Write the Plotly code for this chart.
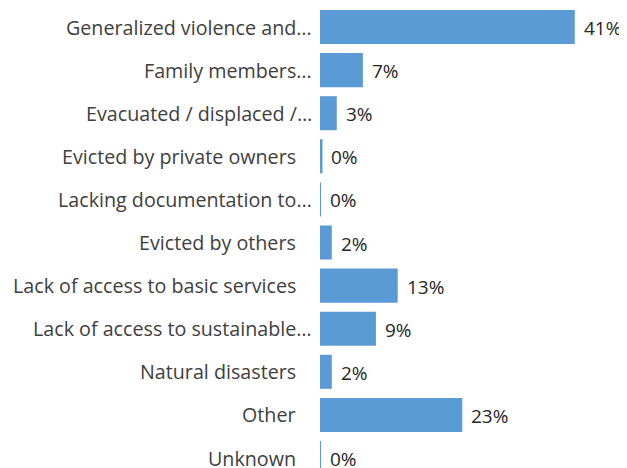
import plotly.graph_objects as go

categories = [
    "Generalized violence and…",
    "Family members…",
    "Evacuated / displaced /…",
    "Evicted by private owners",
    "Lacking documentation to…",
    "Evicted by others",
    "Lack of access to basic services",
    "Lack of access to sustainable…",
    "Natural disasters",
    "Other",
    "Unknown",
]
values = [41.0, 6.9, 2.7, 0.4, 0.1, 1.9, 12.5, 9.0, 1.9, 22.9, 0.15]
value_labels = ["41%", "7%", "3%", "0%", "0%", "2%", "13%", "9%", "2%", "23%", "0%"]

FONT = "Open Sans"
CAT_COLOR = "#404040"
VAL_COLOR = "#262626"

fig = go.Figure()
fig.add_trace(go.Bar(
    x=values,
    y=categories,
    orientation="h",
    marker=dict(color="#5B9BD5", line=dict(width=0)),
    width=0.79,
    hoverinfo="skip",
))

for c, v, t in zip(categories, values, value_labels):
    fig.add_annotation(
        x=v, y=c, text=t, showarrow=False,
        xanchor="left", yanchor="middle", xshift=7, yshift=-1,
        font=dict(family=FONT, size=19, color=VAL_COLOR),
    )

for c in categories:
    fig.add_annotation(
        x=0, y=c, text=c, showarrow=False,
        xanchor="right", yanchor="middle",
        xshift=-6 if c.endswith("…") else -22, yshift=0,
        font=dict(family=FONT, size=19.7, color=CAT_COLOR),
    )

fig.update_layout(
    width=619, height=460,
    margin=dict(l=312, r=0, t=0, b=0),
    paper_bgcolor="white", plot_bgcolor="white",
    showlegend=False,
    font=dict(family=FONT, size=20, color=CAT_COLOR),
)
fig.update_xaxes(range=[0, 49.4], visible=False, showgrid=False, zeroline=False)
fig.update_yaxes(
    range=[10.232, -0.441],
    categoryorder="array", categoryarray=categories,
    showgrid=False, zeroline=False, showline=False,
    ticks="", showticklabels=False,
)

fig.write_html("out.html")
